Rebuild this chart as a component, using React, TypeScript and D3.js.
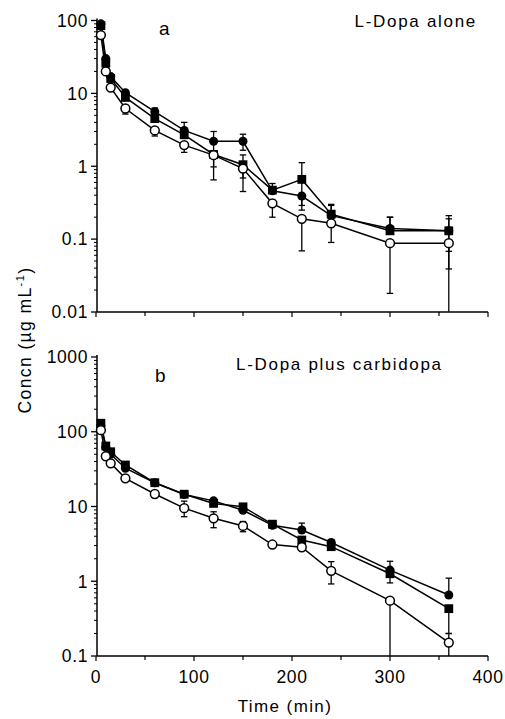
import React from "react";
import * as d3 from "d3";

// ---------- DATA ----------
const times = [5, 10, 15, 30, 60, 90, 120, 150, 180, 210, 240, 300, 360];

// Panel a: L-Dopa alone
const aCircleMean = [90, 30, 17, 10.2, 5.6, 3.1, 2.2, 2.2, 0.46, 0.39, 0.21, 0.14, 0.13];
const aCircleHi: (number | null)[] = [null, null, null, null, 6.3, 4.0, 3.0, 2.75, null, null, 0.29, 0.2, 0.19];
const aCircleLo: (number | null)[] = [null, null, null, null, null, null, 1.64, 1.66, null, 0.25, null, null, 0.039];
const aSquareMean = [85, 26, 16, 8.8, 4.5, 2.7, 1.45, 1.05, 0.47, 0.66, 0.22, 0.13, 0.13];
const aSquareHi: (number | null)[] = [null, null, null, null, null, null, null, 1.43, 0.58, 1.12, 0.3, 0.2, 0.21];
const aSquareLo: (number | null)[] = [null, null, null, null, null, null, 0.98, 0.69, null, 0.29, null, null, 0.068];
const aOpenMean = [63, 20, 12, 6.2, 3.1, 1.95, 1.42, 0.93, 0.31, 0.19, 0.165, 0.088, 0.088];
const aOpenHi: (number | null)[] = [null, null, null, null, null, null, null, null, null, null, null, null, null];
const aOpenLo: (number | null)[] = [null, null, null, 5.2, 2.6, 1.55, 0.65, 0.45, 0.2, 0.069, 0.09, 0.018, 0.0101];

// Panel b: L-Dopa plus carbidopa
const bCircleMean = [120, 62, 50, 32.5, 20.8, 14.5, 11.9, 8.9, 5.6, 4.85, 3.3, 1.41, 0.655];
const bCircleHi: (number | null)[] = [null, null, null, null, null, null, null, null, null, 6.0, 3.6, 1.85, 1.1];
const bCircleLo: (number | null)[] = [null, null, null, null, null, null, null, null, null, null, null, null, null];
const bSquareMean = [130, 64.5, 54, 35.9, 20.8, 14.6, 11, 9.9, 5.8, 3.56, 2.9, 1.26, 0.43];
const bSquareHi: (number | null)[] = [null, null, null, null, null, null, null, null, null, null, null, null, null];
const bSquareLo: (number | null)[] = [null, null, null, null, null, null, null, null, null, null, null, 0.95, 0.2];
const bOpenMean = [105, 47, 37.8, 23.8, 14.7, 9.5, 6.95, 5.5, 3.1, 2.85, 1.38, 0.55, 0.151];
const bOpenHi: (number | null)[] = [null, null, null, null, null, 11.8, 8.5, 6.3, null, null, 1.83, null, 0.2];
const bOpenLo: (number | null)[] = [null, null, null, null, 13.2, 7.3, 5.2, 4.6, null, null, 0.92, 0.1, 0.1];

const xTicks = [0, 50, 100, 150, 200, 250, 300, 350, 400];
const xTickLabels = ["0", "100", "200", "300", "400"];
const aYTickLabels = ["0.01", "0.1", "1", "10", "100"];
const bYTickLabels = ["0.1", "1", "10", "100", "1000"];

const FONT = "'Liberation Sans', Arial, Helvetica, sans-serif";

type Series = { kind: "square" | "circle" | "open"; mean: number[]; hi: (number | null)[]; lo: (number | null)[] };

function Panel({
  y,
  series,
  tickLabels,
  showXLabels,
}: {
  y: d3.ScaleLogarithmic<number, number>;
  series: Series[];
  tickLabels: string[];
  showXLabels: boolean;
}) {
  const x = d3.scaleLinear().domain([0, 400]).range([96, 488]);
  const [d0, d1] = y.domain();
  const y0 = y(d0);
  const y1 = y(d1);
  const majors: number[] = [];
  const minors: number[] = [];
  for (let e = Math.round(Math.log10(d0)); e <= Math.round(Math.log10(d1)); e++) {
    majors.push(Math.pow(10, e));
    if (Math.pow(10, e) < d1) for (let m = 2; m <= 9; m++) minors.push(m * Math.pow(10, e));
  }
  const line = d3
    .line<number>()
    .x((_, i) => x(times[i]))
    .y((v) => y(v));
  const cap = 3.2;
  const ax = x(0) + 1;
  return (
    <g>
      {/* axes */}
      <line x1={ax} x2={ax} y1={y1 - 2} y2={y0} stroke="#000" strokeWidth={1.5} />
      <line x1={ax} x2={x(400)} y1={y0} y2={y0} stroke="#000" strokeWidth={1.5} />
      {majors.map((v, i) => (
        <g key={"M" + i}>
          <line x1={ax - 6} x2={ax} y1={y(v)} y2={y(v)} stroke="#000" strokeWidth={1.3} />
          <text
            x={ax - 9}
            y={y(v)}
            dy="0.36em"
            textAnchor="end"
            fontSize={17.5}
            fontFamily={FONT}
            letterSpacing={0.6}
          >
            {tickLabels[i]}
          </text>
        </g>
      ))}
      {minors.map((v, i) => (
        <line key={"m" + i} x1={ax - 3} x2={ax} y1={y(v)} y2={y(v)} stroke="#000" strokeWidth={1} />
      ))}
      {xTicks.map((t, i) => (
        <line
          key={"xt" + i}
          x1={x(t)}
          x2={x(t)}
          y1={y0}
          y2={y0 + (t % 100 === 0 ? 5 : 4)}
          stroke="#000"
          strokeWidth={1.2}
        />
      ))}
      {showXLabels &&
        xTicks
          .filter((t) => t % 100 === 0)
          .map((t, i) => (
            <text
              key={"xl" + i}
              x={x(t)}
              y={y0 + 27}
              textAnchor="middle"
              fontSize={17.5}
              fontFamily={FONT}
              letterSpacing={0.6}
            >
              {xTickLabels[i]}
            </text>
          ))}
      {/* error bars */}
      {series.map((s, si) => (
        <g key={"e" + si}>
          {times.map((t, i) => {
            const cx = x(t);
            const els: React.ReactNode[] = [];
            const hi = s.hi[i];
            const lo = s.lo[i];
            if (hi != null) {
              els.push(<line key="h" x1={cx} x2={cx} y1={y(s.mean[i])} y2={y(hi)} stroke="#000" strokeWidth={1.3} />);
              els.push(<line key="hc" x1={cx - cap} x2={cx + cap} y1={y(hi)} y2={y(hi)} stroke="#000" strokeWidth={1.3} />);
            }
            if (lo != null) {
              const ly = Math.min(y(Math.max(lo, d0)), y0);
              els.push(<line key="l" x1={cx} x2={cx} y1={y(s.mean[i])} y2={ly} stroke="#000" strokeWidth={1.3} />);
              if (ly < y0 - 2)
                els.push(<line key="lc" x1={cx - cap} x2={cx + cap} y1={ly} y2={ly} stroke="#000" strokeWidth={1.3} />);
            }
            return <g key={i}>{els}</g>;
          })}
        </g>
      ))}
      {/* lines */}
      {series.map((s, si) => (
        <path key={"l" + si} d={line(s.mean) || ""} fill="none" stroke="#000" strokeWidth={1.5} />
      ))}
      {/* markers */}
      {series.map((s, si) => (
        <g key={"p" + si}>
          {s.mean.map((v, i) => {
            const cx = x(times[i]);
            const cy = y(v);
            if (s.kind === "square")
              return <rect key={i} x={cx - 4.4} y={cy - 4.4} width={8.8} height={8.8} fill="#000" />;
            if (s.kind === "circle") return <circle key={i} cx={cx} cy={cy} r={4.5} fill="#000" />;
            return <circle key={i} cx={cx} cy={cy} r={4.4} fill="#fff" stroke="#000" strokeWidth={1.5} />;
          })}
        </g>
      ))}
    </g>
  );
}

export default function App() {
  const yA = d3.scaleLog().domain([0.01, 100]).range([312, 20.5]);
  const yB = d3.scaleLog().domain([0.1, 1000]).range([656, 357]);
  const seriesA: Series[] = [
    { kind: "square", mean: aSquareMean, hi: aSquareHi, lo: aSquareLo },
    { kind: "circle", mean: aCircleMean, hi: aCircleHi, lo: aCircleLo },
    { kind: "open", mean: aOpenMean, hi: aOpenHi, lo: aOpenLo },
  ];
  const seriesB: Series[] = [
    { kind: "square", mean: bSquareMean, hi: bSquareHi, lo: bSquareLo },
    { kind: "circle", mean: bCircleMean, hi: bCircleHi, lo: bCircleLo },
    { kind: "open", mean: bOpenMean, hi: bOpenHi, lo: bOpenLo },
  ];
  return (
    <svg
      width={505}
      height={719}
      style={{ position: "absolute", left: 0, top: 0, background: "#fff" }}
      fontFamily={FONT}
    >
      <rect width={505} height={719} fill="#fff" />
      <Panel y={yA} series={seriesA} tickLabels={aYTickLabels} showXLabels={false} />
      <Panel y={yB} series={seriesB} tickLabels={bYTickLabels} showXLabels={true} />
      <text x={159} y={35} fontSize={19} fontFamily={FONT}>a</text>
      <text x={477} y={27} fontSize={17} textAnchor="end" letterSpacing={1.7} fontFamily={FONT}>
        L-Dopa alone
      </text>
      <text x={155} y={382} fontSize={19} fontFamily={FONT}>b</text>
      <text x={236} y={370} fontSize={17} letterSpacing={1.7} fontFamily={FONT}>
        L-Dopa plus carbidopa
      </text>
      <text x={285} y={712} fontSize={17} textAnchor="middle" letterSpacing={1.4} fontFamily={FONT}>
        Time (min)
      </text>
      <text
        transform="translate(31,340) rotate(-90)"
        fontSize={17.5}
        textAnchor="middle"
        letterSpacing={1.4}
        fontFamily={FONT}
      >
        Concn (µg mL
        <tspan fontSize={11} dy={-7}>-1</tspan>
        <tspan dy={7}>)</tspan>
      </text>
    </svg>
  );
}
